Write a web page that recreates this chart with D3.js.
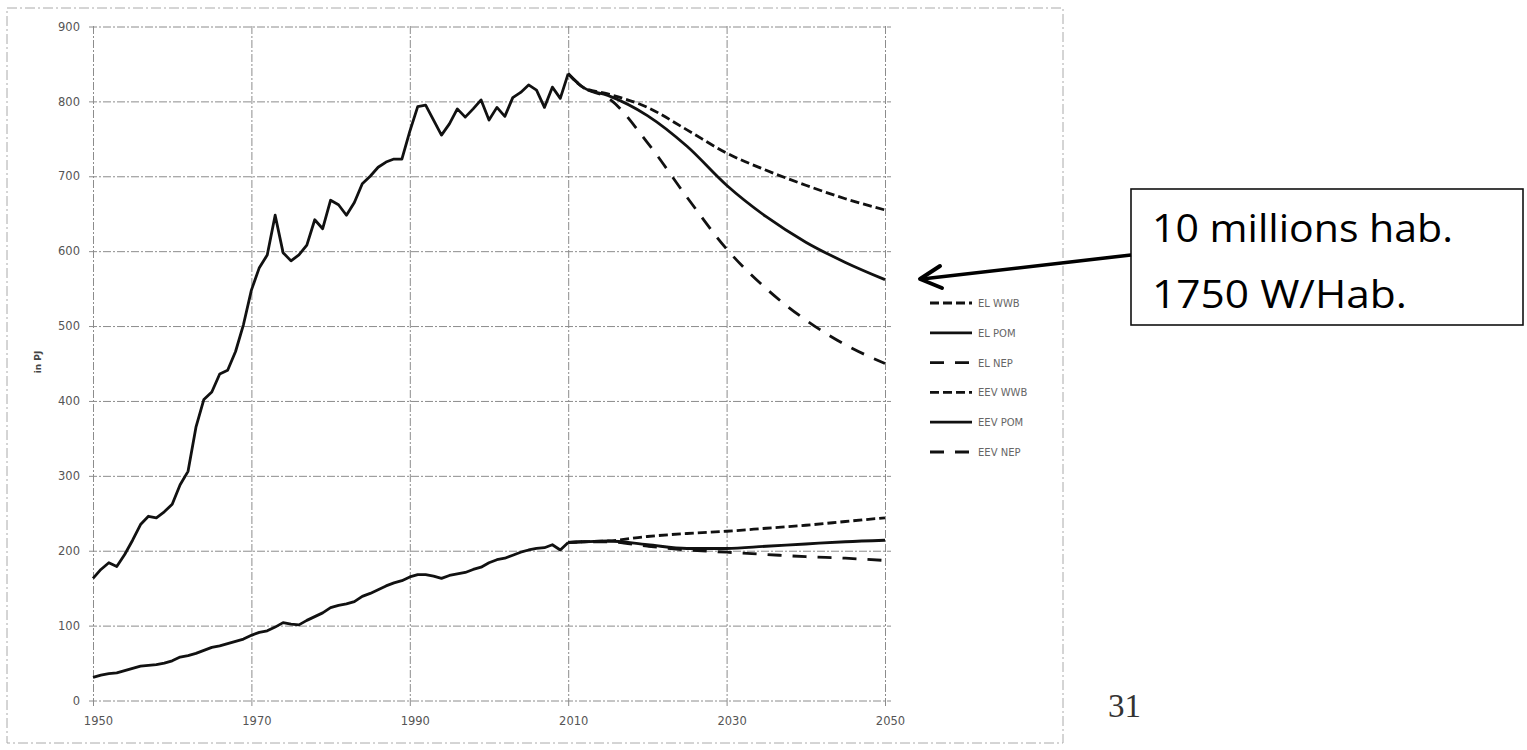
<!DOCTYPE html>
<html><head><meta charset="utf-8">
<script src="https://cdn.jsdelivr.net/npm/d3@7"></script>
<style>body{margin:0;background:#fff;} svg{display:block;}</style>
</head><body>
<svg id="c" width="1527" height="750"></svg>
<script>
// ---------- data ----------
const histYears = d3.range(1950, 2011);
const eevHist = [163,175,184,179,195,214,235,246,244,252,
                 262,288,306,365,402,412,436,441,466,502,
                 548,578,595,648,598,587,595,608,642,630,
                 668,662,648,665,690,700,712,719,723,723,
                 760,793,795,775,755,770,790,779,790,802,
                 775,792,780,805,812,822,815,792,819,804,
                 837];
const elHist = [31,34,36,37,40,43,46,47,48,50,
                53,58,60,63,67,71,73,76,79,82,
                87,91,93,98,104,102,101,107,112,117,
                124,127,129,132,139,143,148,153,157,160,
                165,168,168,166,163,167,169,171,175,178,
                184,188,190,194,198,201,203,204,208,201,
                211];
const projYears = [2010, 2012, 2015, 2020, 2025, 2030, 2035, 2040, 2045, 2050];
const eevWWB = [837, 818, 810, 792, 762, 731, 708, 688, 670, 655];
const eevPOM = [837, 818, 808, 781, 740, 688, 646, 612, 585, 562];
const eevNEP = [837, 818, 805, 745, 672, 603, 550, 508, 475, 450];
const elWWB  = [211, 212, 213, 219, 223, 226, 230, 234, 239, 244];
const elPOM  = [211, 212, 213, 208, 203, 203, 206, 209, 212, 214];
const elNEP  = [211, 212, 212, 206, 201, 198, 195, 192, 190, 187];
const yTicks = [0, 100, 200, 300, 400, 500, 600, 700, 800, 900];
const xTicks = [1950, 1970, 1990, 2010, 2030, 2050];
const legendLabels = ["EL WWB", "EL POM", "EL NEP", "EEV WWB", "EEV POM", "EEV NEP"];
const legendStyles = ["WWB", "POM", "NEP", "WWB", "POM", "NEP"];
const yLabel = "in PJ";
const annotationLines = ["10 millions hab.", "1750 W/Hab."];
const pageNumber = "31";

// ---------- drawing ----------
const svg = d3.select("#c");
const dash = { WWB: "9,4", POM: null, NEP: "14,11" };
const x = d3.scaleLinear().domain([1950, 2050]).range([93, 885]);
const y = d3.scaleLinear().domain([0, 900]).range([700.5, 26.5]);

// outer scanned frame
svg.append("rect").attr("x", 7).attr("y", 8).attr("width", 1056).attr("height", 735)
  .attr("fill", "none").attr("stroke", "#aaa").attr("stroke-width", 1)
  .attr("stroke-dasharray", "10,3,2,3");

const gridStyle = g => {
  g.select(".domain").remove();
  g.selectAll(".tick line").attr("stroke", "#8c8c8c").attr("stroke-width", 1)
    .attr("stroke-dasharray", "8,2,2,2");
  g.selectAll(".tick text").attr("fill", "#555").attr("font-family", "DejaVu Sans")
    .attr("font-size", 11.5);
};

// y axis + horizontal grid
svg.append("g").attr("transform", "translate(89,0)")
  .call(d3.axisLeft(y).tickValues(yTicks).tickSizeInner(-802).tickSizeOuter(0).tickPadding(9))
  .call(gridStyle);
// x axis + vertical grid
svg.append("g").attr("transform", "translate(0,706)")
  .call(d3.axisBottom(x).tickValues(xTicks).tickFormat(d3.format("d"))
    .tickSizeInner(-680).tickSizeOuter(0).tickPadding(11))
  .call(gridStyle)
  .selectAll(".tick text").attr("dx", 5);

// y label
svg.append("text").attr("transform", "translate(41,362) rotate(-90)")
  .attr("text-anchor", "middle").attr("font-family", "DejaVu Sans")
  .attr("font-size", 9).attr("font-weight", "bold").attr("fill", "#444").text(yLabel);

const lineGen = d3.line().x(d => x(d[0])).y(d => y(d[1]));
const smooth = d3.line().x(d => x(d[0])).y(d => y(d[1])).curve(d3.curveMonotoneX);
const drawLine = (gen, xs, vs, style) => {
  svg.append("path").datum(xs.map((yr, i) => [yr, vs[i]]))
    .attr("d", gen).attr("fill", "none").attr("stroke", "#111")
    .attr("stroke-width", 2.8).attr("stroke-linejoin", "round")
    .attr("stroke-dasharray", style ? dash[style] : null);
};
drawLine(lineGen, histYears, eevHist, "POM");
drawLine(lineGen, histYears, elHist, "POM");
[[eevWWB, "WWB"], [eevPOM, "POM"], [eevNEP, "NEP"], [elWWB, "WWB"], [elPOM, "POM"], [elNEP, "NEP"]]
  .forEach(([vals, st]) => drawLine(smooth, projYears, vals, st));

// legend
const leg = svg.append("g");
legendLabels.forEach((lab, i) => {
  const yy = 303 + i * 29.8;
  leg.append("line").attr("x1", 930).attr("x2", 972).attr("y1", yy).attr("y2", yy)
    .attr("stroke", "#111").attr("stroke-width", 2.8)
    .attr("stroke-dasharray", dash[legendStyles[i]]);
  leg.append("text").attr("x", 978).attr("y", yy + 4).attr("font-family", "DejaVu Sans")
    .attr("font-size", 10).attr("fill", "#666").text(lab);
});

// annotation box + arrow
svg.append("rect").attr("x", 1131).attr("y", 189).attr("width", 392).attr("height", 136)
  .attr("fill", "#fff").attr("stroke", "#111").attr("stroke-width", 1.6);
const annotWidths = [301, 255];
annotationLines.forEach((t, i) => {
  svg.append("text").attr("x", 1152).attr("y", 242 + i * 66)
    .attr("font-family", "'Open Sans', sans-serif").attr("font-size", 38)
    .attr("textLength", annotWidths[i]).attr("lengthAdjust", "spacingAndGlyphs")
    .attr("fill", "#000").text(t);
});
svg.append("line").attr("x1", 1131).attr("y1", 255).attr("x2", 922).attr("y2", 279)
  .attr("stroke", "#000").attr("stroke-width", 3.6);
svg.append("path").attr("d", "M940,266 L920,279 L942,288")
  .attr("fill", "none").attr("stroke", "#000").attr("stroke-width", 4)
  .attr("stroke-linecap", "round").attr("stroke-linejoin", "round");

// page number
svg.append("text").attr("x", 1108).attr("y", 717).attr("font-family", "Liberation Serif")
  .attr("font-size", 33).attr("fill", "#333").text(pageNumber);
</script>
</body></html>
